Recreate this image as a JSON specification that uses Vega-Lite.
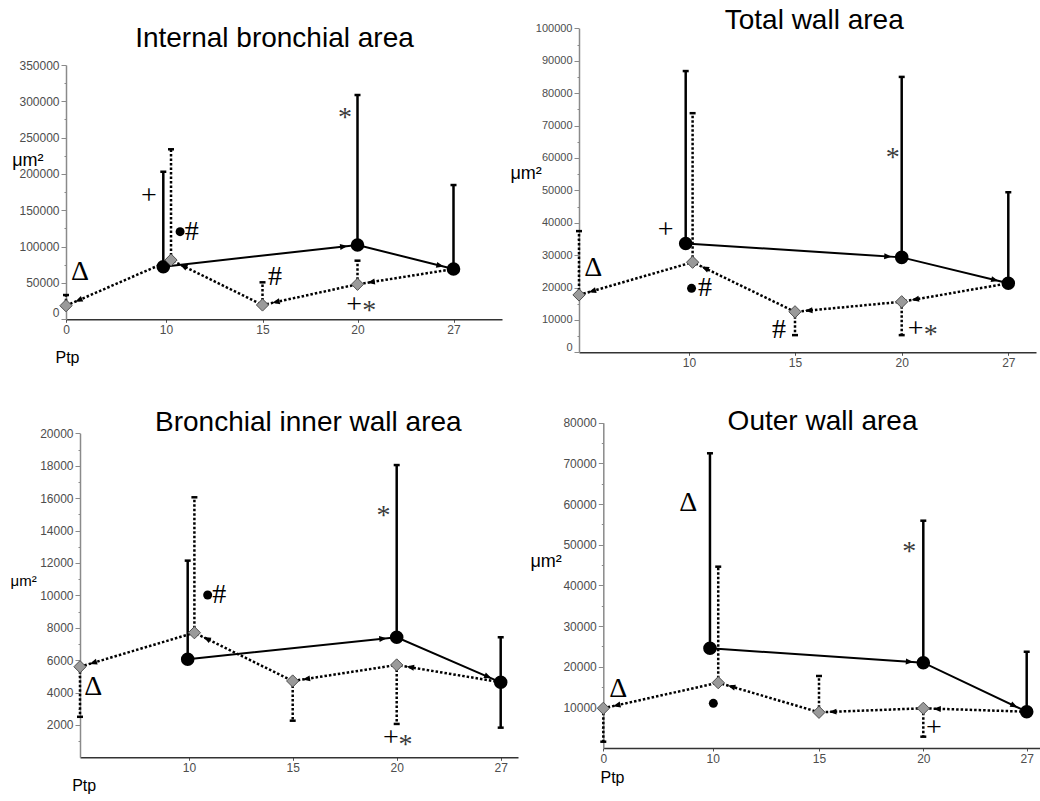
{
"$schema":"https://vega.github.io/schema/vega-lite/v6.json",
"width":1040,"height":801,"autosize":{"type":"none"},"padding":0,"background":"white",
"config":{
 "view":{"stroke":null},
 "axis":{"grid":false,"labelFont":"Liberation Sans","labelColor":"#4d4d4d","labelFlush":false,"labelOverlap":false,"titleFont":"Liberation Sans","titleFontWeight":"normal","titleColor":"black","titleAngle":0,"titleAlign":"left","titleBaseline":"alphabetic"},
 "axisX":{"domainColor":"#333333","domainWidth":1.5,"tickColor":"#555555","tickSize":3,"labelPadding":2},
 "axisY":{"domainColor":"#8a8a8a","domainWidth":1.5,"tickColor":"#8a8a8a","tickSize":5,"labelPadding":2}
},
"datasets":{
 "p1":[
  {"series":"black","ptp":9.73,"value":72400,"hi":203100},
  {"series":"black","ptp":20,"value":102300,"hi":308700},
  {"series":"black","ptp":27,"value":69200,"hi":184800},
  {"series":"diamond","ptp":0,"value":18700,"hi":33400},
  {"series":"diamond","ptp":10.26,"value":81600,"hi":234000},
  {"series":"diamond","ptp":15,"value":19700,"hi":50900},
  {"series":"diamond","ptp":20,"value":48200,"hi":80700}
 ],
 "n1":[
  {"role":"title","label":"Internal bronchial area","ptp":15.63,"value":374800},
  {"role":"sym","label":"Δ","ptp":1.4,"value":65500},
  {"role":"sym","label":"+","ptp":8.3,"value":170100},
  {"role":"dot","label":"●","ptp":10.73,"value":120600},
  {"role":"sym","label":"#","ptp":11.33,"value":120600},
  {"role":"sym","label":"#","ptp":15.66,"value":58600},
  {"role":"sym","label":"*","ptp":19.34,"value":288200},
  {"role":"sym","label":"+","ptp":19.82,"value":19700},
  {"role":"sym","label":"*","ptp":20.85,"value":22000}
 ],
 "p2":[
  {"series":"black","ptp":9.7,"value":33600,"hi":86800},
  {"series":"black","ptp":20,"value":29300,"hi":85000},
  {"series":"black","ptp":27,"value":21300,"hi":49400},
  {"series":"diamond","ptp":0,"value":17700,"hi":37400},
  {"series":"diamond","ptp":10.17,"value":27800,"hi":73800},
  {"series":"diamond","ptp":15,"value":12500,"lo":5300},
  {"series":"diamond","ptp":20,"value":15600,"lo":5300}
 ],
 "n2":[
  {"role":"title","label":"Total wall area","ptp":15.9,"value":99700},
  {"role":"sym","label":"+","ptp":7.88,"value":37700},
  {"role":"sym","label":"Δ","ptp":1.3,"value":25900},
  {"role":"dot","label":"●","ptp":10.12,"value":19750},
  {"role":"sym","label":"#","ptp":10.75,"value":19750},
  {"role":"sym","label":"#","ptp":14.25,"value":6900},
  {"role":"sym","label":"*","ptp":19.58,"value":62400},
  {"role":"sym","label":"+","ptp":20.92,"value":7100},
  {"role":"sym","label":"*","ptp":21.9,"value":7900}
 ],
 "p3":[
  {"series":"black","ptp":9.88,"value":6050,"hi":12140},
  {"series":"black","ptp":20,"value":7410,"hi":18040},
  {"series":"black","ptp":27,"value":4630,"hi":7410,"lo":1830},
  {"series":"diamond","ptp":0,"value":5590,"lo":2500},
  {"series":"diamond","ptp":10.26,"value":7690,"hi":16050},
  {"series":"diamond","ptp":15,"value":4710,"lo":2260},
  {"series":"diamond","ptp":20,"value":5700,"lo":2060}
 ],
 "n3":[
  {"role":"title","label":"Bronchial inner wall area","ptp":15.75,"value":20160},
  {"role":"sym","label":"Δ","ptp":1.22,"value":4360},
  {"role":"dot","label":"●","ptp":10.9,"value":10020},
  {"role":"sym","label":"#","ptp":11.46,"value":10020},
  {"role":"sym","label":"*","ptp":19.36,"value":15370},
  {"role":"sym","label":"+","ptp":19.72,"value":1170},
  {"role":"sym","label":"*","ptp":20.6,"value":1270}
 ],
 "p4":[
  {"series":"black","ptp":9.75,"value":24520,"hi":72480},
  {"series":"black","ptp":20,"value":20980,"hi":55900},
  {"series":"black","ptp":27,"value":8930,"hi":23680},
  {"series":"diamond","ptp":0,"value":9760,"lo":1550},
  {"series":"diamond","ptp":10.26,"value":16060,"hi":44590},
  {"series":"diamond","ptp":15,"value":8780,"hi":17710},
  {"series":"diamond","ptp":20,"value":9760,"lo":2780}
 ],
 "n4":[
  {"role":"title","label":"Outer wall area","ptp":15.17,"value":78210},
  {"role":"sym","label":"Δ","ptp":7.77,"value":60180},
  {"role":"sym","label":"Δ","ptp":1.37,"value":14510},
  {"role":"dot","label":"●","ptp":10.03,"value":10990},
  {"role":"sym","label":"*","ptp":19.33,"value":50170},
  {"role":"sym","label":"+","ptp":20.72,"value":4850}
 ]
},
"resolve":{"scale":{"x":"independent","y":"independent","angle":"independent"},"axis":{"x":"independent","y":"independent"}},
"layer":[
 {"data":{"name":"p1"},"transform":[{"filter":"datum.hi != null"}],
  "mark":{"type":"rule","strokeWidth":2.5,"color":"black"},
  "encoding":{
   "x":{"field":"ptp","type":"quantitative","scale":{"domain":[0,10,15,20,27,31],"range":[66,166,262.5,357.5,453.5,502],"zero":false,"nice":false},
        "axis":{"orient":"bottom","offset":-481.7,"values":[0,10,15,20,27],"format":"d","title":"Ptp","titleX":55,"titleY":42.7,"titleFontSize":16,"labelFontSize":12}},
   "y":{"field":"value","type":"quantitative","scale":{"domain":[0,350000],"range":[319.3,65],"zero":false,"nice":false},
        "axis":{"orient":"left","offset":-66,"values":[0,25000,50000,75000,100000,125000,150000,175000,200000,225000,250000,275000,300000,325000,350000],"format":"d","labelExpr":"datum.value % 50000 === 0 ? datum.label : ''","tickDash":{"condition":{"test":"datum.value % 50000 !== 0","value":[2,10]},"value":[]},"labelBaseline":{"condition":{"test":"datum.value === 0","value":"bottom"},"value":"middle"},"title":"μm²","titleX":-54.3,"titleY":165,"titleFontSize":18,"labelFontSize":12}},
   "y2":{"field":"hi"},
   "strokeDash":{"field":"series","type":"nominal","scale":{"domain":["black","diamond"],"range":[[1,0],[2.5,2]]},"legend":null}}},
 {"data":{"name":"p1"},"transform":[{"filter":"datum.lo != null"}],
  "mark":{"type":"rule","strokeWidth":2.5,"color":"black"},
  "encoding":{"x":{"field":"ptp","type":"quantitative","scale":{"domain":[0,10,15,20,27,31],"range":[66,166,262.5,357.5,453.5,502],"zero":false,"nice":false},"axis":null},
   "y":{"field":"value","type":"quantitative","scale":{"domain":[0,350000],"range":[319.3,65],"zero":false,"nice":false},"axis":null},"y2":{"field":"lo"},
   "strokeDash":{"field":"series","type":"nominal","scale":{"domain":["black","diamond"],"range":[[1,0],[2.5,2]]},"legend":null}}},
 {"data":{"name":"p1"},"transform":[{"filter":"datum.hi != null"}],
  "mark":{"type":"tick","orient":"horizontal","size":6,"thickness":2.5,"color":"black","opacity":1},
  "encoding":{"x":{"field":"ptp","type":"quantitative","scale":{"domain":[0,10,15,20,27,31],"range":[66,166,262.5,357.5,453.5,502],"zero":false,"nice":false},"axis":null},
   "y":{"field":"hi","type":"quantitative","scale":{"domain":[0,350000],"range":[319.3,65],"zero":false,"nice":false},"axis":null}}},
 {"data":{"name":"p1"},"transform":[{"filter":"datum.lo != null"}],
  "mark":{"type":"tick","orient":"horizontal","size":6,"thickness":2.5,"color":"black","opacity":1},
  "encoding":{"x":{"field":"ptp","type":"quantitative","scale":{"domain":[0,10,15,20,27,31],"range":[66,166,262.5,357.5,453.5,502],"zero":false,"nice":false},"axis":null},
   "y":{"field":"lo","type":"quantitative","scale":{"domain":[0,350000],"range":[319.3,65],"zero":false,"nice":false},"axis":null}}},
 {"data":{"name":"p1"},"transform":[{"filter":"datum.series === 'black'"}],
  "mark":{"type":"line","color":"black","strokeWidth":2},
  "encoding":{"x":{"field":"ptp","type":"quantitative","scale":{"domain":[0,10,15,20,27,31],"range":[66,166,262.5,357.5,453.5,502],"zero":false,"nice":false},"axis":null},
   "y":{"field":"value","type":"quantitative","scale":{"domain":[0,350000],"range":[319.3,65],"zero":false,"nice":false},"axis":null}}},
 {"data":{"name":"p1"},"transform":[{"filter":"datum.series === 'diamond' || datum.ptp === 27"}],
  "mark":{"type":"line","color":"black","strokeWidth":2.5,"strokeDash":[2.5,2]},
  "encoding":{"x":{"field":"ptp","type":"quantitative","scale":{"domain":[0,10,15,20,27,31],"range":[66,166,262.5,357.5,453.5,502],"zero":false,"nice":false},"axis":null},
   "y":{"field":"value","type":"quantitative","scale":{"domain":[0,350000],"range":[319.3,65],"zero":false,"nice":false},"axis":null}}},
 {"data":{"name":"p1"},"transform":[{"filter":"datum.series === 'black' && datum.ptp > 15"}],
  "mark":{"type":"point","shape":"M -1 0 L -1.75 -0.3 L -1.75 0.3 Z","size":400,"filled":true,"color":"black","opacity":1},
  "encoding":{"x":{"field":"ptp","type":"quantitative","scale":{"domain":[0,10,15,20,27,31],"range":[66,166,262.5,357.5,453.5,502],"zero":false,"nice":false},"axis":null},
   "y":{"field":"value","type":"quantitative","scale":{"domain":[0,350000],"range":[319.3,65],"zero":false,"nice":false},"axis":null},
   "angle":{"field":"ptp","type":"quantitative","scale":{"domain":[20,27],"range":[-6.4,14],"zero":false,"nice":false},"legend":null}}},
 {"data":{"name":"p1"},"transform":[{"filter":"datum.series === 'diamond'"}],
  "mark":{"type":"point","shape":"M -1 0 L -1.75 -0.3 L -1.75 0.3 Z","size":400,"filled":true,"color":"black","opacity":1},
  "encoding":{"x":{"field":"ptp","type":"quantitative","scale":{"domain":[0,10,15,20,27,31],"range":[66,166,262.5,357.5,453.5,502],"zero":false,"nice":false},"axis":null},
   "y":{"field":"value","type":"quantitative","scale":{"domain":[0,350000],"range":[319.3,65],"zero":false,"nice":false},"axis":null},
   "angle":{"field":"ptp","type":"quantitative","scale":{"domain":[0,10.26,15,20],"range":[156.5,-153.8,167.7,170.9],"zero":false,"nice":false},"legend":null}}},
 {"data":{"name":"p1"},"transform":[{"filter":"datum.series === 'black'"}],
  "mark":{"type":"point","shape":"circle","size":185,"filled":true,"color":"black","opacity":1},
  "encoding":{"x":{"field":"ptp","type":"quantitative","scale":{"domain":[0,10,15,20,27,31],"range":[66,166,262.5,357.5,453.5,502],"zero":false,"nice":false},"axis":null},
   "y":{"field":"value","type":"quantitative","scale":{"domain":[0,350000],"range":[319.3,65],"zero":false,"nice":false},"axis":null}}},
 {"data":{"name":"p1"},"transform":[{"filter":"datum.series === 'diamond'"}],
  "mark":{"type":"point","shape":"diamond","size":150,"filled":true,"fill":"#9a9a9a","stroke":"#505050","strokeWidth":1,"opacity":1},
  "encoding":{"x":{"field":"ptp","type":"quantitative","scale":{"domain":[0,10,15,20,27,31],"range":[66,166,262.5,357.5,453.5,502],"zero":false,"nice":false},"axis":null},
   "y":{"field":"value","type":"quantitative","scale":{"domain":[0,350000],"range":[319.3,65],"zero":false,"nice":false},"axis":null}}},
 {"data":{"name":"n1"},"transform":[{"filter":"datum.role === 'dot'"}],
  "mark":{"type":"point","shape":"circle","size":81,"filled":true,"color":"black","opacity":1},
  "encoding":{"x":{"field":"ptp","type":"quantitative","scale":{"domain":[0,10,15,20,27,31],"range":[66,166,262.5,357.5,453.5,502],"zero":false,"nice":false},"axis":null},
   "y":{"field":"value","type":"quantitative","scale":{"domain":[0,350000],"range":[319.3,65],"zero":false,"nice":false},"axis":null}}},
 {"data":{"name":"n1"},"transform":[{"filter":"datum.role === 'sym' && datum.label !== '*'"}],
  "mark":{"type":"text","font":"Liberation Serif","fontSize":28,"color":"black","align":"center","baseline":"middle"},
  "encoding":{"x":{"field":"ptp","type":"quantitative","scale":{"domain":[0,10,15,20,27,31],"range":[66,166,262.5,357.5,453.5,502],"zero":false,"nice":false},"axis":null},
   "y":{"field":"value","type":"quantitative","scale":{"domain":[0,350000],"range":[319.3,65],"zero":false,"nice":false},"axis":null},"text":{"field":"label","type":"nominal"}}},
 {"data":{"name":"n1"},"transform":[{"filter":"datum.label === '*'"}],
  "mark":{"type":"text","font":"Liberation Serif","fontSize":28,"color":"#3a3a3a","align":"center","baseline":"middle","dy":8},
  "encoding":{"x":{"field":"ptp","type":"quantitative","scale":{"domain":[0,10,15,20,27,31],"range":[66,166,262.5,357.5,453.5,502],"zero":false,"nice":false},"axis":null},
   "y":{"field":"value","type":"quantitative","scale":{"domain":[0,350000],"range":[319.3,65],"zero":false,"nice":false},"axis":null},"text":{"field":"label","type":"nominal"}}},
 {"data":{"name":"n1"},"transform":[{"filter":"datum.role === 'title'"}],
  "mark":{"type":"text","font":"Liberation Sans","fontSize":28,"color":"black","align":"center","baseline":"alphabetic"},
  "encoding":{"x":{"field":"ptp","type":"quantitative","scale":{"domain":[0,10,15,20,27,31],"range":[66,166,262.5,357.5,453.5,502],"zero":false,"nice":false},"axis":null},
   "y":{"field":"value","type":"quantitative","scale":{"domain":[0,350000],"range":[319.3,65],"zero":false,"nice":false},"axis":null},"text":{"field":"label","type":"nominal"}}},

 {"data":{"name":"p2"},"transform":[{"filter":"datum.hi != null"}],
  "mark":{"type":"rule","strokeWidth":2.5,"color":"black"},
  "encoding":{
   "x":{"field":"ptp","type":"quantitative","scale":{"domain":[0,10,15,20,27,30.5],"range":[579,689,795,901.7,1008.3,1036],"zero":false,"nice":false},
        "axis":{"orient":"bottom","offset":-448.7,"values":[10,15,20,27],"format":"d","title":null,"labelFontSize":12}},
   "y":{"field":"value","type":"quantitative","scale":{"domain":[0,100000],"range":[352.3,28.3],"zero":false,"nice":false},
        "axis":{"orient":"left","offset":-579,"values":[0,5000,10000,15000,20000,25000,30000,35000,40000,45000,50000,55000,60000,65000,70000,75000,80000,85000,90000,95000,100000],"format":"d","labelExpr":"datum.value % 10000 === 0 ? datum.label : ''","tickDash":{"condition":{"test":"datum.value % 10000 !== 0","value":[2,10]},"value":[]},"labelBaseline":{"condition":{"test":"datum.value === 0","value":"bottom"},"value":"middle"},"title":"μm²","titleX":-69,"titleY":178.3,"titleFontSize":18,"labelFontSize":11}},
   "y2":{"field":"hi"},
   "strokeDash":{"field":"series","type":"nominal","scale":{"domain":["black","diamond"],"range":[[1,0],[2.5,2]]},"legend":null}}},
 {"data":{"name":"p2"},"transform":[{"filter":"datum.lo != null"}],
  "mark":{"type":"rule","strokeWidth":2.5,"color":"black"},
  "encoding":{"x":{"field":"ptp","type":"quantitative","scale":{"domain":[0,10,15,20,27,30.5],"range":[579,689,795,901.7,1008.3,1036],"zero":false,"nice":false},"axis":null},
   "y":{"field":"value","type":"quantitative","scale":{"domain":[0,100000],"range":[352.3,28.3],"zero":false,"nice":false},"axis":null},"y2":{"field":"lo"},
   "strokeDash":{"field":"series","type":"nominal","scale":{"domain":["black","diamond"],"range":[[1,0],[2.5,2]]},"legend":null}}},
 {"data":{"name":"p2"},"transform":[{"filter":"datum.hi != null"}],
  "mark":{"type":"tick","orient":"horizontal","size":6,"thickness":2.5,"color":"black","opacity":1},
  "encoding":{"x":{"field":"ptp","type":"quantitative","scale":{"domain":[0,10,15,20,27,30.5],"range":[579,689,795,901.7,1008.3,1036],"zero":false,"nice":false},"axis":null},
   "y":{"field":"hi","type":"quantitative","scale":{"domain":[0,100000],"range":[352.3,28.3],"zero":false,"nice":false},"axis":null}}},
 {"data":{"name":"p2"},"transform":[{"filter":"datum.lo != null"}],
  "mark":{"type":"tick","orient":"horizontal","size":6,"thickness":2.5,"color":"black","opacity":1},
  "encoding":{"x":{"field":"ptp","type":"quantitative","scale":{"domain":[0,10,15,20,27,30.5],"range":[579,689,795,901.7,1008.3,1036],"zero":false,"nice":false},"axis":null},
   "y":{"field":"lo","type":"quantitative","scale":{"domain":[0,100000],"range":[352.3,28.3],"zero":false,"nice":false},"axis":null}}},
 {"data":{"name":"p2"},"transform":[{"filter":"datum.series === 'black'"}],
  "mark":{"type":"line","color":"black","strokeWidth":2},
  "encoding":{"x":{"field":"ptp","type":"quantitative","scale":{"domain":[0,10,15,20,27,30.5],"range":[579,689,795,901.7,1008.3,1036],"zero":false,"nice":false},"axis":null},
   "y":{"field":"value","type":"quantitative","scale":{"domain":[0,100000],"range":[352.3,28.3],"zero":false,"nice":false},"axis":null}}},
 {"data":{"name":"p2"},"transform":[{"filter":"datum.series === 'diamond' || datum.ptp === 27"}],
  "mark":{"type":"line","color":"black","strokeWidth":2.5,"strokeDash":[2.5,2]},
  "encoding":{"x":{"field":"ptp","type":"quantitative","scale":{"domain":[0,10,15,20,27,30.5],"range":[579,689,795,901.7,1008.3,1036],"zero":false,"nice":false},"axis":null},
   "y":{"field":"value","type":"quantitative","scale":{"domain":[0,100000],"range":[352.3,28.3],"zero":false,"nice":false},"axis":null}}},
 {"data":{"name":"p2"},"transform":[{"filter":"datum.series === 'black' && datum.ptp > 15"}],
  "mark":{"type":"point","shape":"M -1 0 L -1.75 -0.3 L -1.75 0.3 Z","size":400,"filled":true,"color":"black","opacity":1},
  "encoding":{"x":{"field":"ptp","type":"quantitative","scale":{"domain":[0,10,15,20,27,30.5],"range":[579,689,795,901.7,1008.3,1036],"zero":false,"nice":false},"axis":null},
   "y":{"field":"value","type":"quantitative","scale":{"domain":[0,100000],"range":[352.3,28.3],"zero":false,"nice":false},"axis":null},
   "angle":{"field":"ptp","type":"quantitative","scale":{"domain":[20,27],"range":[3.7,13.7],"zero":false,"nice":false},"legend":null}}},
 {"data":{"name":"p2"},"transform":[{"filter":"datum.series === 'diamond'"}],
  "mark":{"type":"point","shape":"M -1 0 L -1.75 -0.3 L -1.75 0.3 Z","size":400,"filled":true,"color":"black","opacity":1},
  "encoding":{"x":{"field":"ptp","type":"quantitative","scale":{"domain":[0,10,15,20,27,30.5],"range":[579,689,795,901.7,1008.3,1036],"zero":false,"nice":false},"axis":null},
   "y":{"field":"value","type":"quantitative","scale":{"domain":[0,100000],"range":[352.3,28.3],"zero":false,"nice":false},"axis":null},
   "angle":{"field":"ptp","type":"quantitative","scale":{"domain":[0,10.17,15,20],"range":[164,-154.4,174.6,170.2],"zero":false,"nice":false},"legend":null}}},
 {"data":{"name":"p2"},"transform":[{"filter":"datum.series === 'black'"}],
  "mark":{"type":"point","shape":"circle","size":185,"filled":true,"color":"black","opacity":1},
  "encoding":{"x":{"field":"ptp","type":"quantitative","scale":{"domain":[0,10,15,20,27,30.5],"range":[579,689,795,901.7,1008.3,1036],"zero":false,"nice":false},"axis":null},
   "y":{"field":"value","type":"quantitative","scale":{"domain":[0,100000],"range":[352.3,28.3],"zero":false,"nice":false},"axis":null}}},
 {"data":{"name":"p2"},"transform":[{"filter":"datum.series === 'diamond'"}],
  "mark":{"type":"point","shape":"diamond","size":150,"filled":true,"fill":"#9a9a9a","stroke":"#505050","strokeWidth":1,"opacity":1},
  "encoding":{"x":{"field":"ptp","type":"quantitative","scale":{"domain":[0,10,15,20,27,30.5],"range":[579,689,795,901.7,1008.3,1036],"zero":false,"nice":false},"axis":null},
   "y":{"field":"value","type":"quantitative","scale":{"domain":[0,100000],"range":[352.3,28.3],"zero":false,"nice":false},"axis":null}}},
 {"data":{"name":"n2"},"transform":[{"filter":"datum.role === 'dot'"}],
  "mark":{"type":"point","shape":"circle","size":81,"filled":true,"color":"black","opacity":1},
  "encoding":{"x":{"field":"ptp","type":"quantitative","scale":{"domain":[0,10,15,20,27,30.5],"range":[579,689,795,901.7,1008.3,1036],"zero":false,"nice":false},"axis":null},
   "y":{"field":"value","type":"quantitative","scale":{"domain":[0,100000],"range":[352.3,28.3],"zero":false,"nice":false},"axis":null}}},
 {"data":{"name":"n2"},"transform":[{"filter":"datum.role === 'sym' && datum.label !== '*'"}],
  "mark":{"type":"text","font":"Liberation Serif","fontSize":28,"color":"black","align":"center","baseline":"middle"},
  "encoding":{"x":{"field":"ptp","type":"quantitative","scale":{"domain":[0,10,15,20,27,30.5],"range":[579,689,795,901.7,1008.3,1036],"zero":false,"nice":false},"axis":null},
   "y":{"field":"value","type":"quantitative","scale":{"domain":[0,100000],"range":[352.3,28.3],"zero":false,"nice":false},"axis":null},"text":{"field":"label","type":"nominal"}}},
 {"data":{"name":"n2"},"transform":[{"filter":"datum.label === '*'"}],
  "mark":{"type":"text","font":"Liberation Serif","fontSize":28,"color":"#3a3a3a","align":"center","baseline":"middle","dy":8},
  "encoding":{"x":{"field":"ptp","type":"quantitative","scale":{"domain":[0,10,15,20,27,30.5],"range":[579,689,795,901.7,1008.3,1036],"zero":false,"nice":false},"axis":null},
   "y":{"field":"value","type":"quantitative","scale":{"domain":[0,100000],"range":[352.3,28.3],"zero":false,"nice":false},"axis":null},"text":{"field":"label","type":"nominal"}}},
 {"data":{"name":"n2"},"transform":[{"filter":"datum.role === 'title'"}],
  "mark":{"type":"text","font":"Liberation Sans","fontSize":28,"color":"black","align":"center","baseline":"alphabetic"},
  "encoding":{"x":{"field":"ptp","type":"quantitative","scale":{"domain":[0,10,15,20,27,30.5],"range":[579,689,795,901.7,1008.3,1036],"zero":false,"nice":false},"axis":null},
   "y":{"field":"value","type":"quantitative","scale":{"domain":[0,100000],"range":[352.3,28.3],"zero":false,"nice":false},"axis":null},"text":{"field":"label","type":"nominal"}}},

 {"data":{"name":"p3"},"transform":[{"filter":"datum.hi != null"}],
  "mark":{"type":"rule","strokeWidth":2.5,"color":"black"},
  "encoding":{
   "x":{"field":"ptp","type":"quantitative","scale":{"domain":[0,10,15,20,27,28.2],"range":[80,189,292.7,396.7,500.7,518],"zero":false,"nice":false},
        "axis":{"orient":"bottom","offset":-43.7,"values":[10,15,20,27],"format":"d","title":"Ptp","titleX":71.7,"titleY":32.7,"titleFontSize":16,"labelFontSize":12}},
   "y":{"field":"value","type":"quantitative","scale":{"domain":[0,20000],"range":[757.3,433.3],"zero":false,"nice":false},
        "axis":{"orient":"left","offset":-80,"values":[1000,2000,3000,4000,5000,6000,7000,8000,9000,10000,11000,12000,13000,14000,15000,16000,17000,18000,19000,20000],"format":"d","labelExpr":"datum.value % 2000 === 0 ? datum.label : ''","tickDash":{"condition":{"test":"datum.value % 2000 !== 0","value":[2,10]},"value":[]},"title":"μm²","titleX":-70,"titleY":585,"titleFontSize":15,"labelFontSize":12}},
   "y2":{"field":"hi"},
   "strokeDash":{"field":"series","type":"nominal","scale":{"domain":["black","diamond"],"range":[[1,0],[2.5,2]]},"legend":null}}},
 {"data":{"name":"p3"},"transform":[{"filter":"datum.lo != null"}],
  "mark":{"type":"rule","strokeWidth":2.5,"color":"black"},
  "encoding":{"x":{"field":"ptp","type":"quantitative","scale":{"domain":[0,10,15,20,27,28.2],"range":[80,189,292.7,396.7,500.7,518],"zero":false,"nice":false},"axis":null},
   "y":{"field":"value","type":"quantitative","scale":{"domain":[0,20000],"range":[757.3,433.3],"zero":false,"nice":false},"axis":null},"y2":{"field":"lo"},
   "strokeDash":{"field":"series","type":"nominal","scale":{"domain":["black","diamond"],"range":[[1,0],[2.5,2]]},"legend":null}}},
 {"data":{"name":"p3"},"transform":[{"filter":"datum.hi != null"}],
  "mark":{"type":"tick","orient":"horizontal","size":6,"thickness":2.5,"color":"black","opacity":1},
  "encoding":{"x":{"field":"ptp","type":"quantitative","scale":{"domain":[0,10,15,20,27,28.2],"range":[80,189,292.7,396.7,500.7,518],"zero":false,"nice":false},"axis":null},
   "y":{"field":"hi","type":"quantitative","scale":{"domain":[0,20000],"range":[757.3,433.3],"zero":false,"nice":false},"axis":null}}},
 {"data":{"name":"p3"},"transform":[{"filter":"datum.lo != null"}],
  "mark":{"type":"tick","orient":"horizontal","size":6,"thickness":2.5,"color":"black","opacity":1},
  "encoding":{"x":{"field":"ptp","type":"quantitative","scale":{"domain":[0,10,15,20,27,28.2],"range":[80,189,292.7,396.7,500.7,518],"zero":false,"nice":false},"axis":null},
   "y":{"field":"lo","type":"quantitative","scale":{"domain":[0,20000],"range":[757.3,433.3],"zero":false,"nice":false},"axis":null}}},
 {"data":{"name":"p3"},"transform":[{"filter":"datum.series === 'black'"}],
  "mark":{"type":"line","color":"black","strokeWidth":2},
  "encoding":{"x":{"field":"ptp","type":"quantitative","scale":{"domain":[0,10,15,20,27,28.2],"range":[80,189,292.7,396.7,500.7,518],"zero":false,"nice":false},"axis":null},
   "y":{"field":"value","type":"quantitative","scale":{"domain":[0,20000],"range":[757.3,433.3],"zero":false,"nice":false},"axis":null}}},
 {"data":{"name":"p3"},"transform":[{"filter":"datum.series === 'diamond' || datum.ptp === 27"}],
  "mark":{"type":"line","color":"black","strokeWidth":2.5,"strokeDash":[2.5,2]},
  "encoding":{"x":{"field":"ptp","type":"quantitative","scale":{"domain":[0,10,15,20,27,28.2],"range":[80,189,292.7,396.7,500.7,518],"zero":false,"nice":false},"axis":null},
   "y":{"field":"value","type":"quantitative","scale":{"domain":[0,20000],"range":[757.3,433.3],"zero":false,"nice":false},"axis":null}}},
 {"data":{"name":"p3"},"transform":[{"filter":"datum.series === 'black' && datum.ptp > 15"}],
  "mark":{"type":"point","shape":"M -1 0 L -1.75 -0.3 L -1.75 0.3 Z","size":400,"filled":true,"color":"black","opacity":1},
  "encoding":{"x":{"field":"ptp","type":"quantitative","scale":{"domain":[0,10,15,20,27,28.2],"range":[80,189,292.7,396.7,500.7,518],"zero":false,"nice":false},"axis":null},
   "y":{"field":"value","type":"quantitative","scale":{"domain":[0,20000],"range":[757.3,433.3],"zero":false,"nice":false},"axis":null},
   "angle":{"field":"ptp","type":"quantitative","scale":{"domain":[20,27],"range":[-6,23.4],"zero":false,"nice":false},"legend":null}}},
 {"data":{"name":"p3"},"transform":[{"filter":"datum.series === 'diamond'"}],
  "mark":{"type":"point","shape":"M -1 0 L -1.75 -0.3 L -1.75 0.3 Z","size":400,"filled":true,"color":"black","opacity":1},
  "encoding":{"x":{"field":"ptp","type":"quantitative","scale":{"domain":[0,10,15,20,27,28.2],"range":[80,189,292.7,396.7,500.7,518],"zero":false,"nice":false},"axis":null},
   "y":{"field":"value","type":"quantitative","scale":{"domain":[0,20000],"range":[757.3,433.3],"zero":false,"nice":false},"axis":null},
   "angle":{"field":"ptp","type":"quantitative","scale":{"domain":[0,10.26,15,20],"range":[163.4,-153.9,171.3,-170.6],"zero":false,"nice":false},"legend":null}}},
 {"data":{"name":"p3"},"transform":[{"filter":"datum.series === 'black'"}],
  "mark":{"type":"point","shape":"circle","size":185,"filled":true,"color":"black","opacity":1},
  "encoding":{"x":{"field":"ptp","type":"quantitative","scale":{"domain":[0,10,15,20,27,28.2],"range":[80,189,292.7,396.7,500.7,518],"zero":false,"nice":false},"axis":null},
   "y":{"field":"value","type":"quantitative","scale":{"domain":[0,20000],"range":[757.3,433.3],"zero":false,"nice":false},"axis":null}}},
 {"data":{"name":"p3"},"transform":[{"filter":"datum.series === 'diamond'"}],
  "mark":{"type":"point","shape":"diamond","size":150,"filled":true,"fill":"#9a9a9a","stroke":"#505050","strokeWidth":1,"opacity":1},
  "encoding":{"x":{"field":"ptp","type":"quantitative","scale":{"domain":[0,10,15,20,27,28.2],"range":[80,189,292.7,396.7,500.7,518],"zero":false,"nice":false},"axis":null},
   "y":{"field":"value","type":"quantitative","scale":{"domain":[0,20000],"range":[757.3,433.3],"zero":false,"nice":false},"axis":null}}},
 {"data":{"name":"n3"},"transform":[{"filter":"datum.role === 'dot'"}],
  "mark":{"type":"point","shape":"circle","size":81,"filled":true,"color":"black","opacity":1},
  "encoding":{"x":{"field":"ptp","type":"quantitative","scale":{"domain":[0,10,15,20,27,28.2],"range":[80,189,292.7,396.7,500.7,518],"zero":false,"nice":false},"axis":null},
   "y":{"field":"value","type":"quantitative","scale":{"domain":[0,20000],"range":[757.3,433.3],"zero":false,"nice":false},"axis":null}}},
 {"data":{"name":"n3"},"transform":[{"filter":"datum.role === 'sym' && datum.label !== '*'"}],
  "mark":{"type":"text","font":"Liberation Serif","fontSize":28,"color":"black","align":"center","baseline":"middle"},
  "encoding":{"x":{"field":"ptp","type":"quantitative","scale":{"domain":[0,10,15,20,27,28.2],"range":[80,189,292.7,396.7,500.7,518],"zero":false,"nice":false},"axis":null},
   "y":{"field":"value","type":"quantitative","scale":{"domain":[0,20000],"range":[757.3,433.3],"zero":false,"nice":false},"axis":null},"text":{"field":"label","type":"nominal"}}},
 {"data":{"name":"n3"},"transform":[{"filter":"datum.label === '*'"}],
  "mark":{"type":"text","font":"Liberation Serif","fontSize":28,"color":"#3a3a3a","align":"center","baseline":"middle","dy":8},
  "encoding":{"x":{"field":"ptp","type":"quantitative","scale":{"domain":[0,10,15,20,27,28.2],"range":[80,189,292.7,396.7,500.7,518],"zero":false,"nice":false},"axis":null},
   "y":{"field":"value","type":"quantitative","scale":{"domain":[0,20000],"range":[757.3,433.3],"zero":false,"nice":false},"axis":null},"text":{"field":"label","type":"nominal"}}},
 {"data":{"name":"n3"},"transform":[{"filter":"datum.role === 'title'"}],
  "mark":{"type":"text","font":"Liberation Sans","fontSize":28,"color":"black","align":"center","baseline":"alphabetic"},
  "encoding":{"x":{"field":"ptp","type":"quantitative","scale":{"domain":[0,10,15,20,27,28.2],"range":[80,189,292.7,396.7,500.7,518],"zero":false,"nice":false},"axis":null},
   "y":{"field":"value","type":"quantitative","scale":{"domain":[0,20000],"range":[757.3,433.3],"zero":false,"nice":false},"axis":null},"text":{"field":"label","type":"nominal"}}},

 {"data":{"name":"p4"},"transform":[{"filter":"datum.hi != null"}],
  "mark":{"type":"rule","strokeWidth":2.5,"color":"black"},
  "encoding":{
   "x":{"field":"ptp","type":"quantitative","scale":{"domain":[0,10,15,20,27,30],"range":[603.3,712.7,819,923.3,1026.7,1071],"zero":false,"nice":false},
        "axis":{"orient":"bottom","offset":-53,"values":[0,10,15,20,27],"format":"d","title":"Ptp","titleX":600,"titleY":34,"titleFontSize":16,"labelFontSize":12}},
   "y":{"field":"value","type":"quantitative","scale":{"domain":[0,80000],"range":[748,422.7],"zero":false,"nice":false},
        "axis":{"orient":"left","offset":-603.3,"values":[5000,10000,15000,20000,25000,30000,35000,40000,45000,50000,55000,60000,65000,70000,75000,80000],"format":"d","labelExpr":"datum.value % 10000 === 0 ? datum.label : ''","tickDash":{"condition":{"test":"datum.value % 10000 !== 0","value":[2,10]},"value":[]},"title":"μm²","titleX":-73.3,"titleY":566.7,"titleFontSize":18,"labelFontSize":12}},
   "y2":{"field":"hi"},
   "strokeDash":{"field":"series","type":"nominal","scale":{"domain":["black","diamond"],"range":[[1,0],[2.5,2]]},"legend":null}}},
 {"data":{"name":"p4"},"transform":[{"filter":"datum.lo != null"}],
  "mark":{"type":"rule","strokeWidth":2.5,"color":"black"},
  "encoding":{"x":{"field":"ptp","type":"quantitative","scale":{"domain":[0,10,15,20,27,30],"range":[603.3,712.7,819,923.3,1026.7,1071],"zero":false,"nice":false},"axis":null},
   "y":{"field":"value","type":"quantitative","scale":{"domain":[0,80000],"range":[748,422.7],"zero":false,"nice":false},"axis":null},"y2":{"field":"lo"},
   "strokeDash":{"field":"series","type":"nominal","scale":{"domain":["black","diamond"],"range":[[1,0],[2.5,2]]},"legend":null}}},
 {"data":{"name":"p4"},"transform":[{"filter":"datum.hi != null"}],
  "mark":{"type":"tick","orient":"horizontal","size":6,"thickness":2.5,"color":"black","opacity":1},
  "encoding":{"x":{"field":"ptp","type":"quantitative","scale":{"domain":[0,10,15,20,27,30],"range":[603.3,712.7,819,923.3,1026.7,1071],"zero":false,"nice":false},"axis":null},
   "y":{"field":"hi","type":"quantitative","scale":{"domain":[0,80000],"range":[748,422.7],"zero":false,"nice":false},"axis":null}}},
 {"data":{"name":"p4"},"transform":[{"filter":"datum.lo != null"}],
  "mark":{"type":"tick","orient":"horizontal","size":6,"thickness":2.5,"color":"black","opacity":1},
  "encoding":{"x":{"field":"ptp","type":"quantitative","scale":{"domain":[0,10,15,20,27,30],"range":[603.3,712.7,819,923.3,1026.7,1071],"zero":false,"nice":false},"axis":null},
   "y":{"field":"lo","type":"quantitative","scale":{"domain":[0,80000],"range":[748,422.7],"zero":false,"nice":false},"axis":null}}},
 {"data":{"name":"p4"},"transform":[{"filter":"datum.series === 'black'"}],
  "mark":{"type":"line","color":"black","strokeWidth":2},
  "encoding":{"x":{"field":"ptp","type":"quantitative","scale":{"domain":[0,10,15,20,27,30],"range":[603.3,712.7,819,923.3,1026.7,1071],"zero":false,"nice":false},"axis":null},
   "y":{"field":"value","type":"quantitative","scale":{"domain":[0,80000],"range":[748,422.7],"zero":false,"nice":false},"axis":null}}},
 {"data":{"name":"p4"},"transform":[{"filter":"datum.series === 'diamond' || datum.ptp === 27"}],
  "mark":{"type":"line","color":"black","strokeWidth":2.5,"strokeDash":[2.5,2]},
  "encoding":{"x":{"field":"ptp","type":"quantitative","scale":{"domain":[0,10,15,20,27,30],"range":[603.3,712.7,819,923.3,1026.7,1071],"zero":false,"nice":false},"axis":null},
   "y":{"field":"value","type":"quantitative","scale":{"domain":[0,80000],"range":[748,422.7],"zero":false,"nice":false},"axis":null}}},
 {"data":{"name":"p4"},"transform":[{"filter":"datum.series === 'black' && datum.ptp > 15"}],
  "mark":{"type":"point","shape":"M -1 0 L -1.75 -0.3 L -1.75 0.3 Z","size":400,"filled":true,"color":"black","opacity":1},
  "encoding":{"x":{"field":"ptp","type":"quantitative","scale":{"domain":[0,10,15,20,27,30],"range":[603.3,712.7,819,923.3,1026.7,1071],"zero":false,"nice":false},"axis":null},
   "y":{"field":"value","type":"quantitative","scale":{"domain":[0,80000],"range":[748,422.7],"zero":false,"nice":false},"axis":null},
   "angle":{"field":"ptp","type":"quantitative","scale":{"domain":[20,27],"range":[3.9,25.5],"zero":false,"nice":false},"legend":null}}},
 {"data":{"name":"p4"},"transform":[{"filter":"datum.series === 'diamond'"}],
  "mark":{"type":"point","shape":"M -1 0 L -1.75 -0.3 L -1.75 0.3 Z","size":400,"filled":true,"color":"black","opacity":1},
  "encoding":{"x":{"field":"ptp","type":"quantitative","scale":{"domain":[0,10,15,20,27,30],"range":[603.3,712.7,819,923.3,1026.7,1071],"zero":false,"nice":false},"axis":null},
   "y":{"field":"value","type":"quantitative","scale":{"domain":[0,80000],"range":[748,422.7],"zero":false,"nice":false},"axis":null},
   "angle":{"field":"ptp","type":"quantitative","scale":{"domain":[0,10.26,15,20],"range":[167.4,-163.6,177.8,-178],"zero":false,"nice":false},"legend":null}}},
 {"data":{"name":"p4"},"transform":[{"filter":"datum.series === 'black'"}],
  "mark":{"type":"point","shape":"circle","size":185,"filled":true,"color":"black","opacity":1},
  "encoding":{"x":{"field":"ptp","type":"quantitative","scale":{"domain":[0,10,15,20,27,30],"range":[603.3,712.7,819,923.3,1026.7,1071],"zero":false,"nice":false},"axis":null},
   "y":{"field":"value","type":"quantitative","scale":{"domain":[0,80000],"range":[748,422.7],"zero":false,"nice":false},"axis":null}}},
 {"data":{"name":"p4"},"transform":[{"filter":"datum.series === 'diamond'"}],
  "mark":{"type":"point","shape":"diamond","size":150,"filled":true,"fill":"#9a9a9a","stroke":"#505050","strokeWidth":1,"opacity":1},
  "encoding":{"x":{"field":"ptp","type":"quantitative","scale":{"domain":[0,10,15,20,27,30],"range":[603.3,712.7,819,923.3,1026.7,1071],"zero":false,"nice":false},"axis":null},
   "y":{"field":"value","type":"quantitative","scale":{"domain":[0,80000],"range":[748,422.7],"zero":false,"nice":false},"axis":null}}},
 {"data":{"name":"n4"},"transform":[{"filter":"datum.role === 'dot'"}],
  "mark":{"type":"point","shape":"circle","size":81,"filled":true,"color":"black","opacity":1},
  "encoding":{"x":{"field":"ptp","type":"quantitative","scale":{"domain":[0,10,15,20,27,30],"range":[603.3,712.7,819,923.3,1026.7,1071],"zero":false,"nice":false},"axis":null},
   "y":{"field":"value","type":"quantitative","scale":{"domain":[0,80000],"range":[748,422.7],"zero":false,"nice":false},"axis":null}}},
 {"data":{"name":"n4"},"transform":[{"filter":"datum.role === 'sym' && datum.label !== '*'"}],
  "mark":{"type":"text","font":"Liberation Serif","fontSize":28,"color":"black","align":"center","baseline":"middle"},
  "encoding":{"x":{"field":"ptp","type":"quantitative","scale":{"domain":[0,10,15,20,27,30],"range":[603.3,712.7,819,923.3,1026.7,1071],"zero":false,"nice":false},"axis":null},
   "y":{"field":"value","type":"quantitative","scale":{"domain":[0,80000],"range":[748,422.7],"zero":false,"nice":false},"axis":null},"text":{"field":"label","type":"nominal"}}},
 {"data":{"name":"n4"},"transform":[{"filter":"datum.label === '*'"}],
  "mark":{"type":"text","font":"Liberation Serif","fontSize":28,"color":"#3a3a3a","align":"center","baseline":"middle","dy":8},
  "encoding":{"x":{"field":"ptp","type":"quantitative","scale":{"domain":[0,10,15,20,27,30],"range":[603.3,712.7,819,923.3,1026.7,1071],"zero":false,"nice":false},"axis":null},
   "y":{"field":"value","type":"quantitative","scale":{"domain":[0,80000],"range":[748,422.7],"zero":false,"nice":false},"axis":null},"text":{"field":"label","type":"nominal"}}},
 {"data":{"name":"n4"},"transform":[{"filter":"datum.role === 'title'"}],
  "mark":{"type":"text","font":"Liberation Sans","fontSize":28,"color":"black","align":"center","baseline":"alphabetic"},
  "encoding":{"x":{"field":"ptp","type":"quantitative","scale":{"domain":[0,10,15,20,27,30],"range":[603.3,712.7,819,923.3,1026.7,1071],"zero":false,"nice":false},"axis":null},
   "y":{"field":"value","type":"quantitative","scale":{"domain":[0,80000],"range":[748,422.7],"zero":false,"nice":false},"axis":null},"text":{"field":"label","type":"nominal"}}}
]
}
